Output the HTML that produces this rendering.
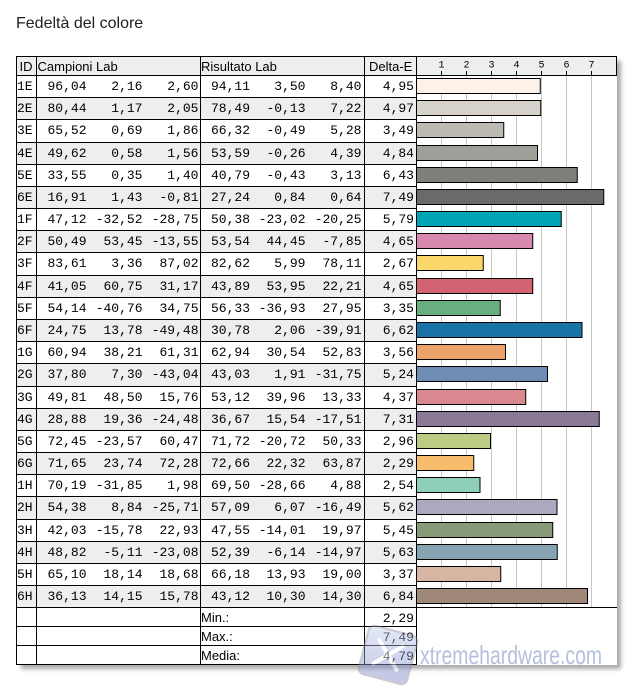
<!DOCTYPE html>
<html><head><meta charset="utf-8">
<style>
html,body{margin:0;padding:0;background:#fff;}
svg{display:block;}
.m{font-family:"Liberation Mono","DejaVu Sans Mono",monospace;font-size:13px;fill:#000;}
.s{font-family:"Liberation Sans",Arial,sans-serif;font-size:13px;fill:#000;}
.t{font-family:"Liberation Mono","DejaVu Sans Mono",monospace;font-size:10px;fill:#000;}
</style></head><body>
<svg width="640" height="690" viewBox="0 0 640 690" xmlns="http://www.w3.org/2000/svg">
<defs>
<filter id="sh" x="-5%" y="-5%" width="110%" height="110%"><feGaussianBlur stdDeviation="2.2"/></filter>
<linearGradient id="lg" x1="0" y1="0" x2="0.3" y2="1"><stop offset="0" stop-color="#c9d2f4"/><stop offset="1" stop-color="#7d8cc8"/></linearGradient>
</defs>
<text x="16" y="28" font-family="Liberation Sans, Arial, sans-serif" font-size="16" fill="#1e1e1e">Fedeltà del colore</text>

<rect x="21" y="61" width="600" height="608" fill="#a9a9a9" filter="url(#sh)"/>
<rect x="16" y="56" width="601" height="609" fill="#fff"/>

<rect x="16" y="56" width="601" height="20" fill="#eeeeee"/>
<g fill="#eeeeee">
<rect x="16" y="97" width="400" height="22"/>
<rect x="16" y="142" width="400" height="22"/>
<rect x="16" y="186" width="400" height="22"/>
<rect x="16" y="230" width="400" height="22"/>
<rect x="16" y="275" width="400" height="22"/>
<rect x="16" y="319" width="400" height="22"/>
<rect x="16" y="363" width="400" height="23"/>
<rect x="16" y="408" width="400" height="22"/>
<rect x="16" y="452" width="400" height="22"/>
<rect x="16" y="496" width="400" height="23"/>
<rect x="16" y="541" width="400" height="22"/>
<rect x="16" y="585" width="400" height="22"/>
</g>

<g stroke="#c6c6c6" stroke-width="1">
<line x1="441.5" y1="76" x2="441.5" y2="607"/>
<line x1="466.5" y1="76" x2="466.5" y2="607"/>
<line x1="491.5" y1="76" x2="491.5" y2="607"/>
<line x1="516.5" y1="76" x2="516.5" y2="607"/>
<line x1="541.5" y1="76" x2="541.5" y2="607"/>
<line x1="566.5" y1="76" x2="566.5" y2="607"/>
<line x1="591.5" y1="76" x2="591.5" y2="607"/>
</g>

<g stroke="#000" stroke-width="1">
<rect x="416.5" y="78.5" width="123.75" height="15" fill="#fdf1ea"/>
<rect x="416.5" y="100.5" width="124.25" height="15" fill="#d7d3cc"/>
<rect x="416.5" y="122.5" width="87.25" height="15" fill="#bdbab4"/>
<rect x="416.5" y="145.5" width="121" height="15" fill="#a09e99"/>
<rect x="416.5" y="167.5" width="160.75" height="15" fill="#7f7e7b"/>
<rect x="416.5" y="189.5" width="187.25" height="15" fill="#6b6a6a"/>
<rect x="416.5" y="211.5" width="144.75" height="15" fill="#00a5b6"/>
<rect x="416.5" y="233.5" width="116.25" height="15" fill="#d988ad"/>
<rect x="416.5" y="255.5" width="66.75" height="15" fill="#f9d768"/>
<rect x="416.5" y="278.5" width="116.25" height="15" fill="#d26370"/>
<rect x="416.5" y="300.5" width="83.75" height="15" fill="#68b07f"/>
<rect x="416.5" y="322.5" width="165.5" height="15" fill="#1a73a6"/>
<rect x="416.5" y="344.5" width="89" height="15" fill="#eca46c"/>
<rect x="416.5" y="366.5" width="131" height="15" fill="#6e8db5"/>
<rect x="416.5" y="389.5" width="109.25" height="15" fill="#d98890"/>
<rect x="416.5" y="411.5" width="182.75" height="15" fill="#8b7a97"/>
<rect x="416.5" y="433.5" width="74" height="15" fill="#bccd83"/>
<rect x="416.5" y="455.5" width="57.25" height="15" fill="#f7bd6d"/>
<rect x="416.5" y="477.5" width="63.5" height="15" fill="#8ecfba"/>
<rect x="416.5" y="499.5" width="140.5" height="15" fill="#aaa9c0"/>
<rect x="416.5" y="522.5" width="136.25" height="15" fill="#889a78"/>
<rect x="416.5" y="544.5" width="140.75" height="15" fill="#88a4b2"/>
<rect x="416.5" y="566.5" width="84.25" height="15" fill="#d6b5a2"/>
<rect x="416.5" y="588.5" width="171" height="15" fill="#a08878"/>
</g>

<g stroke="#000" stroke-width="1">
<line x1="16" y1="56.5" x2="617" y2="56.5"/>
<line x1="16" y1="75.5" x2="617" y2="75.5"/>
<line x1="616.5" y1="56" x2="616.5" y2="76"/>
<line x1="16" y1="97.5" x2="416" y2="97.5"/>
<line x1="16" y1="119.5" x2="416" y2="119.5"/>
<line x1="16" y1="142.5" x2="416" y2="142.5"/>
<line x1="16" y1="164.5" x2="416" y2="164.5"/>
<line x1="16" y1="186.5" x2="416" y2="186.5"/>
<line x1="16" y1="208.5" x2="416" y2="208.5"/>
<line x1="16" y1="230.5" x2="416" y2="230.5"/>
<line x1="16" y1="252.5" x2="416" y2="252.5"/>
<line x1="16" y1="275.5" x2="416" y2="275.5"/>
<line x1="16" y1="297.5" x2="416" y2="297.5"/>
<line x1="16" y1="319.5" x2="416" y2="319.5"/>
<line x1="16" y1="341.5" x2="416" y2="341.5"/>
<line x1="16" y1="363.5" x2="416" y2="363.5"/>
<line x1="16" y1="386.5" x2="416" y2="386.5"/>
<line x1="16" y1="408.5" x2="416" y2="408.5"/>
<line x1="16" y1="430.5" x2="416" y2="430.5"/>
<line x1="16" y1="452.5" x2="416" y2="452.5"/>
<line x1="16" y1="474.5" x2="416" y2="474.5"/>
<line x1="16" y1="496.5" x2="416" y2="496.5"/>
<line x1="16" y1="519.5" x2="416" y2="519.5"/>
<line x1="16" y1="541.5" x2="416" y2="541.5"/>
<line x1="16" y1="563.5" x2="416" y2="563.5"/>
<line x1="16" y1="585.5" x2="416" y2="585.5"/>
<line x1="16" y1="607.5" x2="617" y2="607.5"/>
<line x1="16" y1="626.5" x2="416" y2="626.5"/>
<line x1="16" y1="645.5" x2="416" y2="645.5"/>
<line x1="16" y1="664.5" x2="417" y2="664.5"/>
<line x1="16.5" y1="56" x2="16.5" y2="665"/>
<line x1="36.5" y1="56" x2="36.5" y2="665"/>
<line x1="200.5" y1="56" x2="200.5" y2="665"/>
<line x1="364.5" y1="56" x2="364.5" y2="665"/>
<line x1="416.5" y1="56" x2="416.5" y2="665"/>
<line x1="441.5" y1="71" x2="441.5" y2="75"/>
<line x1="466.5" y1="71" x2="466.5" y2="75"/>
<line x1="491.5" y1="71" x2="491.5" y2="75"/>
<line x1="516.5" y1="71" x2="516.5" y2="75"/>
<line x1="541.5" y1="71" x2="541.5" y2="75"/>
<line x1="566.5" y1="71" x2="566.5" y2="75"/>
<line x1="591.5" y1="71" x2="591.5" y2="75"/>
</g>

<text class="s" x="19.5" y="71">ID</text>
<text class="s" x="37.5" y="71">Campioni Lab</text>
<text class="s" x="201" y="71">Risultato Lab</text>
<text class="s" x="369" y="71">Delta-E</text>
<g class="t" text-anchor="middle">
<text x="441.5" y="67.5">1</text><text x="466.5" y="67.5">2</text><text x="491.5" y="67.5">3</text><text x="516.5" y="67.5">4</text><text x="541.5" y="67.5">5</text><text x="566.5" y="67.5">6</text><text x="591.5" y="67.5">7</text>
</g>

<g class="m">
<text x="17" y="90">1E</text><text x="17" y="112">2E</text><text x="17" y="134">3E</text><text x="17" y="157">4E</text><text x="17" y="179">5E</text><text x="17" y="201">6E</text>
<text x="17" y="223">1F</text><text x="17" y="245">2F</text><text x="17" y="267">3F</text><text x="17" y="290">4F</text><text x="17" y="312">5F</text><text x="17" y="334">6F</text>
<text x="17" y="356">1G</text><text x="17" y="378">2G</text><text x="17" y="401">3G</text><text x="17" y="423">4G</text><text x="17" y="445">5G</text><text x="17" y="467">6G</text>
<text x="17" y="489">1H</text><text x="17" y="511">2H</text><text x="17" y="534">3H</text><text x="17" y="556">4H</text><text x="17" y="578">5H</text><text x="17" y="600">6H</text>
</g>

<g class="m" text-anchor="end">
<text x="86.5" y="90">96,04</text><text x="142.5" y="90">2,16</text><text x="198.5" y="90">2,60</text><text x="250" y="90">94,11</text><text x="305.5" y="90">3,50</text><text x="361.5" y="90">8,40</text><text x="414" y="90">4,95</text>
<text x="86.5" y="112">80,44</text><text x="142.5" y="112">1,17</text><text x="198.5" y="112">2,05</text><text x="250" y="112">78,49</text><text x="305.5" y="112">-0,13</text><text x="361.5" y="112">7,22</text><text x="414" y="112">4,97</text>
<text x="86.5" y="134">65,52</text><text x="142.5" y="134">0,69</text><text x="198.5" y="134">1,86</text><text x="250" y="134">66,32</text><text x="305.5" y="134">-0,49</text><text x="361.5" y="134">5,28</text><text x="414" y="134">3,49</text>
<text x="86.5" y="157">49,62</text><text x="142.5" y="157">0,58</text><text x="198.5" y="157">1,56</text><text x="250" y="157">53,59</text><text x="305.5" y="157">-0,26</text><text x="361.5" y="157">4,39</text><text x="414" y="157">4,84</text>
<text x="86.5" y="179">33,55</text><text x="142.5" y="179">0,35</text><text x="198.5" y="179">1,40</text><text x="250" y="179">40,79</text><text x="305.5" y="179">-0,43</text><text x="361.5" y="179">3,13</text><text x="414" y="179">6,43</text>
<text x="86.5" y="201">16,91</text><text x="142.5" y="201">1,43</text><text x="198.5" y="201">-0,81</text><text x="250" y="201">27,24</text><text x="305.5" y="201">0,84</text><text x="361.5" y="201">0,64</text><text x="414" y="201">7,49</text>
<text x="86.5" y="223">47,12</text><text x="142.5" y="223">-32,52</text><text x="198.5" y="223">-28,75</text><text x="250" y="223">50,38</text><text x="305.5" y="223">-23,02</text><text x="361.5" y="223">-20,25</text><text x="414" y="223">5,79</text>
<text x="86.5" y="245">50,49</text><text x="142.5" y="245">53,45</text><text x="198.5" y="245">-13,55</text><text x="250" y="245">53,54</text><text x="305.5" y="245">44,45</text><text x="361.5" y="245">-7,85</text><text x="414" y="245">4,65</text>
<text x="86.5" y="267">83,61</text><text x="142.5" y="267">3,36</text><text x="198.5" y="267">87,02</text><text x="250" y="267">82,62</text><text x="305.5" y="267">5,99</text><text x="361.5" y="267">78,11</text><text x="414" y="267">2,67</text>
<text x="86.5" y="290">41,05</text><text x="142.5" y="290">60,75</text><text x="198.5" y="290">31,17</text><text x="250" y="290">43,89</text><text x="305.5" y="290">53,95</text><text x="361.5" y="290">22,21</text><text x="414" y="290">4,65</text>
<text x="86.5" y="312">54,14</text><text x="142.5" y="312">-40,76</text><text x="198.5" y="312">34,75</text><text x="250" y="312">56,33</text><text x="305.5" y="312">-36,93</text><text x="361.5" y="312">27,95</text><text x="414" y="312">3,35</text>
<text x="86.5" y="334">24,75</text><text x="142.5" y="334">13,78</text><text x="198.5" y="334">-49,48</text><text x="250" y="334">30,78</text><text x="305.5" y="334">2,06</text><text x="361.5" y="334">-39,91</text><text x="414" y="334">6,62</text>
<text x="86.5" y="356">60,94</text><text x="142.5" y="356">38,21</text><text x="198.5" y="356">61,31</text><text x="250" y="356">62,94</text><text x="305.5" y="356">30,54</text><text x="361.5" y="356">52,83</text><text x="414" y="356">3,56</text>
<text x="86.5" y="378">37,80</text><text x="142.5" y="378">7,30</text><text x="198.5" y="378">-43,04</text><text x="250" y="378">43,03</text><text x="305.5" y="378">1,91</text><text x="361.5" y="378">-31,75</text><text x="414" y="378">5,24</text>
<text x="86.5" y="401">49,81</text><text x="142.5" y="401">48,50</text><text x="198.5" y="401">15,76</text><text x="250" y="401">53,12</text><text x="305.5" y="401">39,96</text><text x="361.5" y="401">13,33</text><text x="414" y="401">4,37</text>
<text x="86.5" y="423">28,88</text><text x="142.5" y="423">19,36</text><text x="198.5" y="423">-24,48</text><text x="250" y="423">36,67</text><text x="305.5" y="423">15,54</text><text x="361.5" y="423">-17,51</text><text x="414" y="423">7,31</text>
<text x="86.5" y="445">72,45</text><text x="142.5" y="445">-23,57</text><text x="198.5" y="445">60,47</text><text x="250" y="445">71,72</text><text x="305.5" y="445">-20,72</text><text x="361.5" y="445">50,33</text><text x="414" y="445">2,96</text>
<text x="86.5" y="467">71,65</text><text x="142.5" y="467">23,74</text><text x="198.5" y="467">72,28</text><text x="250" y="467">72,66</text><text x="305.5" y="467">22,32</text><text x="361.5" y="467">63,87</text><text x="414" y="467">2,29</text>
<text x="86.5" y="489">70,19</text><text x="142.5" y="489">-31,85</text><text x="198.5" y="489">1,98</text><text x="250" y="489">69,50</text><text x="305.5" y="489">-28,66</text><text x="361.5" y="489">4,88</text><text x="414" y="489">2,54</text>
<text x="86.5" y="511">54,38</text><text x="142.5" y="511">8,84</text><text x="198.5" y="511">-25,71</text><text x="250" y="511">57,09</text><text x="305.5" y="511">6,07</text><text x="361.5" y="511">-16,49</text><text x="414" y="511">5,62</text>
<text x="86.5" y="534">42,03</text><text x="142.5" y="534">-15,78</text><text x="198.5" y="534">22,93</text><text x="250" y="534">47,55</text><text x="305.5" y="534">-14,01</text><text x="361.5" y="534">19,97</text><text x="414" y="534">5,45</text>
<text x="86.5" y="556">48,82</text><text x="142.5" y="556">-5,11</text><text x="198.5" y="556">-23,08</text><text x="250" y="556">52,39</text><text x="305.5" y="556">-6,14</text><text x="361.5" y="556">-14,97</text><text x="414" y="556">5,63</text>
<text x="86.5" y="578">65,10</text><text x="142.5" y="578">18,14</text><text x="198.5" y="578">18,68</text><text x="250" y="578">66,18</text><text x="305.5" y="578">13,93</text><text x="361.5" y="578">19,00</text><text x="414" y="578">3,37</text>
<text x="86.5" y="600">36,13</text><text x="142.5" y="600">14,15</text><text x="198.5" y="600">15,78</text><text x="250" y="600">43,12</text><text x="305.5" y="600">10,30</text><text x="361.5" y="600">14,30</text><text x="414" y="600">6,84</text>
<text x="414" y="622">2,29</text><text x="414" y="641">7,49</text><text x="414" y="660">4,79</text>
</g>
<text class="s" x="201" y="622">Min.:</text>
<text class="s" x="201" y="641">Max.:</text>
<text class="s" x="201" y="660">Media:</text>

<g transform="translate(388,655) rotate(15)" opacity="0.45">
<rect x="-25" y="-25" width="50" height="50" rx="6" fill="url(#lg)" stroke="#8a8a96" stroke-width="2"/>
<line x1="-12" y1="-12" x2="12" y2="12" stroke="#fff" stroke-width="4" stroke-linecap="round"/>
<line x1="12" y1="-12" x2="-12" y2="12" stroke="#fff" stroke-width="4" stroke-linecap="round"/>
</g>
<text x="420" y="664" font-family="Liberation Sans Narrow, Liberation Sans, sans-serif" font-size="26" fill="#b5c0dc" textLength="182" lengthAdjust="spacingAndGlyphs">xtremehardware.com</text>
</svg>
</body></html>
